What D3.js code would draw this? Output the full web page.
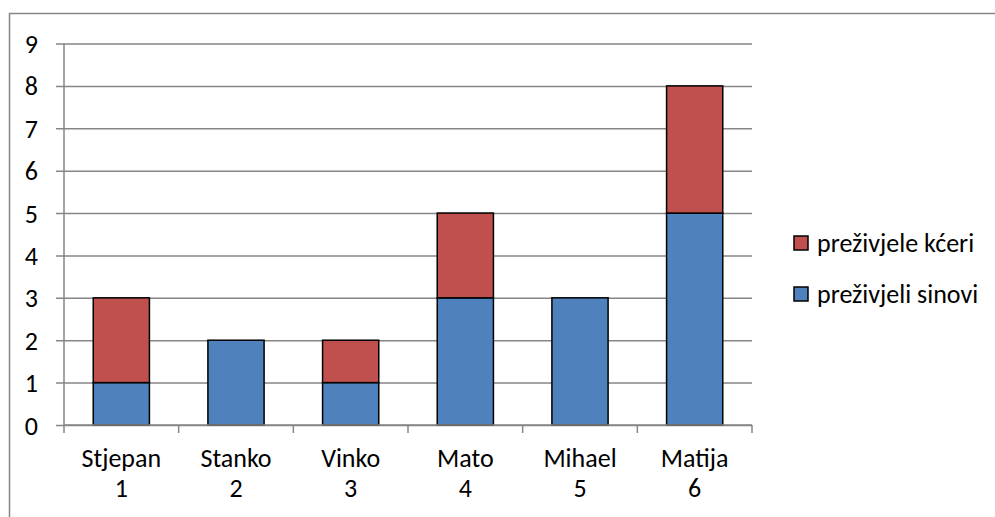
<!DOCTYPE html>
<html>
<head>
<meta charset="utf-8">
<script src="https://cdn.jsdelivr.net/npm/d3@7"></script>
<style>
  body { margin: 0; background: #fff; }
  text { font-family: Carlito, Lato, "Open Sans", sans-serif; fill: #000; }
</style>
</head>
<body>
<div id="canvas"></div>
<script>
// data
var names = ["Stjepan", "Stanko", "Vinko", "Mato", "Mihael", "Matija"];
var nums = ["1", "2", "3", "4", "5", "6"];
var sinovi = [1, 2, 1, 3, 3, 5];
var kceri = [2, 0, 1, 2, 0, 3];
var seriesNames = ["preživjeli sinovi", "preživjele kćeri"];
var colors = ["#4F81BD", "#C0504D"];
var yTicks = [0, 1, 2, 3, 4, 5, 6, 7, 8, 9];

var W = 995, H = 517;
var m = {t: 43.5, l: 64, r: 243, b: 92};
var w = W - m.l - m.r, h = H - m.t - m.b;
var fs = '26px';

var svg = d3.select('#canvas').append('svg')
    .attr('width', W).attr('height', H);

// outer chart border (only top and left visible)
svg.append('rect')
    .attr('x', 9.5).attr('y', 13.5)
    .attr('width', 1000).attr('height', 600)
    .attr('fill', 'none').attr('stroke', '#868686').attr('stroke-width', 1.5);

var plot = svg.append('g')
    .attr('transform', 'translate(' + m.l + ',' + m.t + ')');

var rows = names.map(function(d, i) {
    return {name: d, num: nums[i], s: sinovi[i], k: kceri[i]};
});

var scaleX = d3.scaleBand().domain(names).range([0, w]).paddingInner(0.51).paddingOuter(0.255);
var scaleY = d3.scaleLinear().domain([0, 9]).range([h, 0]);

// gridlines + y axis
var axisY = d3.axisLeft(scaleY).tickValues(yTicks).tickSize(-w).tickSizeOuter(0);
var gy = plot.append('g').attr('class', 'axis axis-y').call(axisY);
gy.attr('font-family', null).attr('font-size', null);
gy.select('.domain').remove();
gy.selectAll('.tick line').attr('x1', -8).attr('stroke', '#868686').attr('stroke-width', 1.5);
gy.selectAll('.tick text').attr('x', -26).attr('dy', '0.35em')
    .style('font-size', fs).style('text-anchor', 'end');

plot.append('line').attr('x1', 0).attr('x2', 0).attr('y1', 0).attr('y2', h)
    .attr('stroke', '#868686').attr('stroke-width', 1.5);

// stacked bars
var stack = d3.stack().keys(['s', 'k'])(rows);
plot.selectAll('g.layer').data(stack).enter().append('g')
    .attr('class', 'layer')
    .attr('fill', function(d, i) { return colors[i]; })
    .selectAll('rect').data(function(d) { return d.filter(function(p) { return p[1] > p[0]; }); })
    .enter().append('rect')
    .attr('x', function(d) { return scaleX(d.data.name); })
    .attr('width', scaleX.bandwidth())
    .attr('y', function(d) { return scaleY(d[1]); })
    .attr('height', function(d) { return scaleY(d[0]) - scaleY(d[1]); })
    .attr('stroke', '#000').attr('stroke-width', 1.5);

// x axis with ticks between categories
var step = w / names.length;
var xg = plot.append('g').attr('transform', 'translate(0,' + h + ')');
xg.append('line').attr('x1', 0).attr('x2', w).attr('stroke', '#868686').attr('stroke-width', 1.5);
xg.selectAll('line.tk').data(d3.range(names.length + 1)).enter().append('line')
    .attr('class', 'tk')
    .attr('x1', function(d) { return d * step; }).attr('x2', function(d) { return d * step; })
    .attr('y1', 0).attr('y2', 8)
    .attr('stroke', '#868686').attr('stroke-width', 1.5);
var lab = xg.selectAll('text').data(rows).enter().append('text')
    .attr('text-anchor', 'middle').style('font-size', fs)
    .attr('transform', function(d) { return 'translate(' + (scaleX(d.name) + scaleX.bandwidth() / 2) + ',0)'; });
lab.append('tspan').attr('x', 0).attr('y', 42).text(function(d) { return d.name; });
lab.append('tspan').attr('x', 0).attr('y', 72).text(function(d) { return d.num; });

// legend
var legY = [294, 243];
var leg = svg.selectAll('g.leg').data(seriesNames).enter().append('g')
    .attr('class', 'leg')
    .attr('transform', function(d, i) { return 'translate(794,' + legY[i] + ')'; });
leg.append('rect').attr('x', 0).attr('y', -7).attr('width', 14).attr('height', 14)
    .attr('fill', function(d, i) { return colors[i]; })
    .attr('stroke', '#000').attr('stroke-width', 1.5);
leg.append('text').attr('x', 23).attr('dy', '0.35em').style('font-size', fs)
    .text(function(d) { return d; });
</script>
</body>
</html>
